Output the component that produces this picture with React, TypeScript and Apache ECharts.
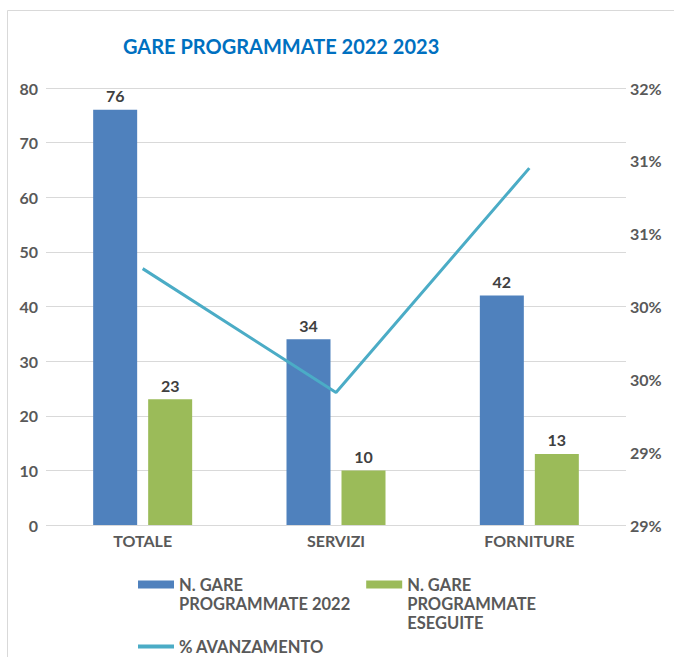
import React, { useEffect, useRef } from "react";
import * as echarts from "echarts";

const categories = ["TOTALE", "SERVIZI", "FORNITURE"];
const programmate2022 = [76, 34, 42];
const eseguite = [23, 10, 13];
const avanzamento = [0.3026, 0.2941, 0.3095];
const leftTicks = [0, 10, 20, 30, 40, 50, 60, 70, 80];
const rightTickLabels = ["29%", "29%", "30%", "30%", "31%", "31%", "32%"];

const seriesNames = [
  "N. GARE\nPROGRAMMATE 2022",
  "N. GARE\nPROGRAMMATE\nESEGUITE",
  "% AVANZAMENTO",
];

const FONT = "Lato, 'Noto Sans', sans-serif";

export default function App() {
  const ref = useRef<HTMLDivElement>(null);
  useEffect(() => {
    if (!ref.current) return;
    const chart = echarts.init(ref.current, null, { renderer: "svg" });
    const LH = 19;
    const legendText = {
      color: "#595959",
      fontSize: 16.5,
      fontWeight: "bold",
      lineHeight: LH,
      fontFamily: FONT,
    };
    // pad blank lines before each multi-line name so its first line sits level with the icon
    const topAlign = (name: string) => {
      const n = name.split("\n").length;
      return "\n".repeat(n - 1) + name;
    };
    chart.setOption({
      animation: false,
      backgroundColor: "#ffffff",
      textStyle: { fontFamily: FONT },
      graphic: [
        {
          type: "rect",
          shape: { x: 7.5, y: 10.5, width: 720, height: 720 },
          style: { fill: "none", stroke: "#d9d9d9", lineWidth: 1 },
          silent: true,
        },
      ],
      title: {
        text: "GARE PROGRAMMATE 2022 2023",
        left: 118,
        top: 31,
        textStyle: { color: "#0070c0", fontSize: 20, fontWeight: "bold", fontFamily: FONT },
      },
      legend: [
        {
          left: 138,
          top: 537,
          padding: 0,
          orient: "horizontal",
          itemWidth: 36,
          itemHeight: 8,
          itemGap: 16,
          icon: "rect",
          formatter: topAlign,
          textStyle: legendText,
          data: [seriesNames[0], seriesNames[1]],
        },
        {
          left: 138,
          top: 638,
          padding: 0,
          itemWidth: 36,
          itemHeight: 4,
          icon: "rect",
          textStyle: { ...legendText, lineHeight: 17 },
          data: [seriesNames[2]],
        },
      ],
      grid: { left: 46, right: 48, top: 88, bottom: 132, containLabel: false },
      xAxis: {
        type: "category",
        data: categories,
        axisLine: { show: false },
        axisTick: { show: false },
        axisLabel: { color: "#595959", fontSize: 16, fontWeight: "bold", margin: 7, fontFamily: FONT },
      },
      yAxis: [
        {
          type: "value",
          min: leftTicks[0],
          max: leftTicks[leftTicks.length - 1],
          interval: 10,
          axisLine: { show: false },
          axisTick: { show: false },
          splitLine: { lineStyle: { color: "#d9d9d9", width: 1 } },
          axisLabel: { color: "#595959", fontSize: 16, fontWeight: "bold", margin: 8, fontFamily: FONT },
        },
        {
          type: "value",
          min: 0.285,
          max: 0.315,
          interval: 0.005,
          position: "right",
          axisLine: { show: false },
          axisTick: { show: false },
          splitLine: { show: false },
          axisLabel: {
            color: "#595959",
            fontSize: 16,
            fontWeight: "bold",
            margin: 4,
            fontFamily: FONT,
            formatter: (_v: number, i: number) => rightTickLabels[i],
          },
        },
      ],
      series: [
        {
          name: seriesNames[0],
          type: "bar",
          data: programmate2022,
          barWidth: 44,
          barGap: "25%",
          itemStyle: { color: "#4f81bd" },
          label: { show: true, position: "top", color: "#404040", fontSize: 16, fontWeight: "bold", distance: 6, fontFamily: FONT },
        },
        {
          name: seriesNames[1],
          type: "bar",
          data: eseguite,
          barWidth: 44,
          itemStyle: { color: "#9bbb59" },
          label: { show: true, position: "top", color: "#404040", fontSize: 16, fontWeight: "bold", distance: 6, fontFamily: FONT },
        },
        {
          name: seriesNames[2],
          type: "line",
          yAxisIndex: 1,
          data: avanzamento,
          symbol: "none",
          lineStyle: { color: "#4bacc6", width: 3 },
          itemStyle: { color: "#4bacc6" },
        },
      ],
    });
    return () => chart.dispose();
  }, []);
  return (
    <div
      ref={ref}
      style={{ position: "fixed", left: 0, top: 0, width: 674, height: 657 }}
    />
  );
}
